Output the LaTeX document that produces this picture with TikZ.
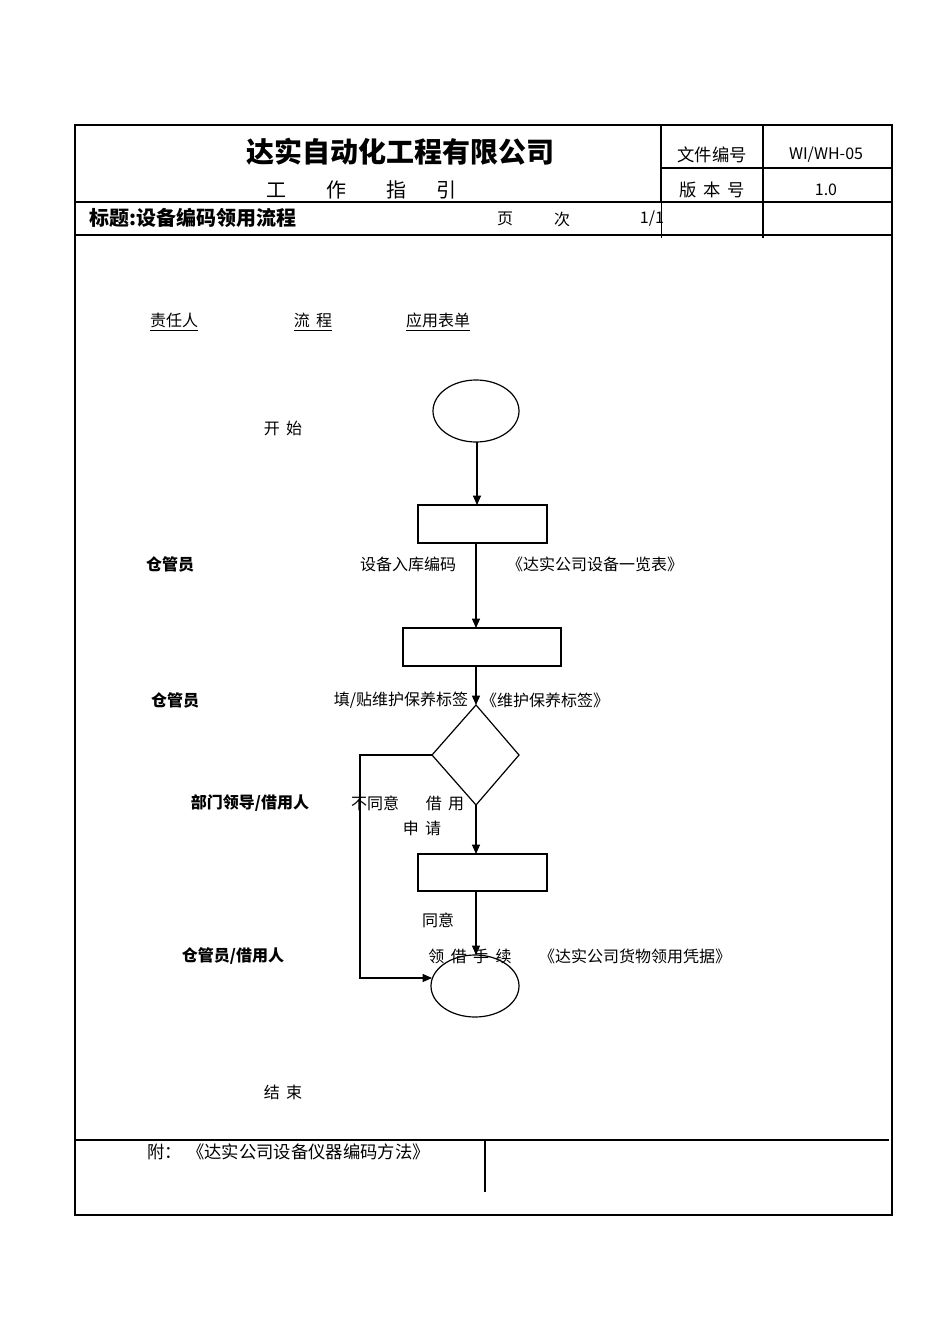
\documentclass[tikz,border=0pt]{standalone}
\usepackage{fontspec}
\setmainfont{Noto Sans CJK SC}
\usetikzlibrary{arrows.meta}
\begin{document}
\begin{tikzpicture}[x=0.75pt,y=-0.75pt,
  lbl/.style={font=\fontsize{12}{12}\selectfont,inner sep=0pt},
  blbl/.style={font=\fontsize{12}{12}\selectfont\bfseries,inner sep=0pt},
  box/.style={draw,line width=0.9pt},
  arr/.style={-{Triangle[length=7pt,width=6pt]},line width=0.8pt},
  frame/.style={line width=1.2pt}]
\useasboundingbox (0,0) rectangle (950,1344);
% frame
\draw[line width=1.5pt] (75,125) rectangle (892,1215);
\draw[frame] (661,125) -- (661,202);
\draw[line width=0.5pt] (661,202) -- (661,238);
\draw[frame] (763,125) -- (763,238);
\draw[frame] (661,168) -- (892,168);
\draw[frame] (75,202) -- (892,202);
\draw[frame] (75,235) -- (892,235);
\draw[frame] (75,1140) -- (889,1140);
\draw[line width=0.8pt] (485,1140) -- (485,1192);
% header texts
\node[font=\fontsize{21}{21}\selectfont\bfseries] (co) at (400,152) {达实自动化工程有限公司};
\node[font=\fontsize{15}{15}\selectfont] (wz) at (361,190) {工\hspace{2em}作\hspace{2em}指\hspace{1.5em}引};
\node[lbl,font=\fontsize{13}{13}\selectfont] (h1) at (712,155) {文件编号};
\node[lbl,font=\fontsize{12}{12}\selectfont] (h2) at (826,155) {WI/WH-05};
\node[lbl,font=\fontsize{13}{13}\selectfont] (h3) at (712,190) {版\hspace{0.4em}本\hspace{0.4em}号};
\node[lbl] (h4) at (826,190) {1.0};
\node[anchor=west,font=\fontsize{15}{15}\selectfont\bfseries,inner sep=0pt] (tt) at (89,218) {标题:设备编码领用流程};
\node[lbl] (p1) at (505,219) {页};
\node[lbl] (p2) at (562,219) {次};
\node[lbl] (p3) at (652,219) {1/1};
% column heads
\node[lbl] (c1) at (174,322) {\underline{责任人}};
\node[lbl] (c2) at (313,322) {\underline{流\hspace{0.4em}程}};
\node[lbl] (c3) at (438,322) {\underline{应用表单}};
% flow shapes
\draw[box] (476,411) ellipse [x radius=43, y radius=31];
\coordinate (e1b) at (477,442);
\coordinate (r1t) at (477,505);
\draw[box] (418,505) rectangle (547,543);
\coordinate (r1b) at (476,543);
\coordinate (r2t) at (476,628);
\draw[box] (403,628) rectangle (561,666);
\coordinate (r2b) at (476,666);
\coordinate (dt) at (476,705);
\draw[box] (476,705) -- (519,755) -- (476,805) -- (432,755) -- cycle;
\coordinate (db) at (476,805);
\coordinate (dl) at (432,755);
\coordinate (r3t) at (476,854);
\draw[box] (418,854) rectangle (547,891);
\coordinate (r3b) at (476,891);
\coordinate (e2t) at (476,955);
\draw[box] (475,986) ellipse [x radius=44, y radius=31];
\coordinate (e2l) at (432,978);
\draw[arr] (e1b) -- (r1t);
\draw[arr] (r1b) -- (r2t);
\draw[arr] (r2b) -- (dt);
\draw[arr] (db) -- (r3t);
\draw[arr] (r3b) -- (e2t);
\draw[arr] (dl) -- (360,755) -- (360,978) -- (e2l);
% labels
\node[lbl] (l1) at (283,428) {开\hspace{0.4em}始};
\node[blbl] (l2) at (170,564) {仓管员};
\node[lbl] (l3) at (408,564) {设备入库编码};
\node[lbl] (l4) at (595,564) {《达实公司设备一览表》};
\node[blbl] (l5) at (175,700) {仓管员};
\node[lbl] (l6) at (401,700) {填/贴维护保养标签};
\node[lbl] (l7) at (545,700) {《维护保养标签》};
\node[blbl] (l8) at (250,803) {部门领导/借用人};
\node[lbl] (l9) at (375,803) {不同意};
\node[lbl] (l10) at (445,803) {借\hspace{0.4em}用};
\node[lbl] (l11) at (422,828) {申\hspace{0.4em}请};
\node[lbl] (l12) at (438,920) {同意};
\node[blbl] (l13) at (233,956) {仓管员/借用人};
\node[lbl] (l14) at (470,956) {领\hspace{0.4em}借\hspace{0.4em}手\hspace{0.4em}续};
\node[lbl] (l15) at (635,956) {《达实公司货物领用凭据》};
\node[lbl] (l16) at (283,1092) {结\hspace{0.4em}束};
\node[anchor=west,lbl,font=\fontsize{13}{13}\selectfont] (l17) at (147,1152) {附：\hspace{0.3em}《达实公司设备仪器编码方法》};
\end{tikzpicture}
\end{document}
